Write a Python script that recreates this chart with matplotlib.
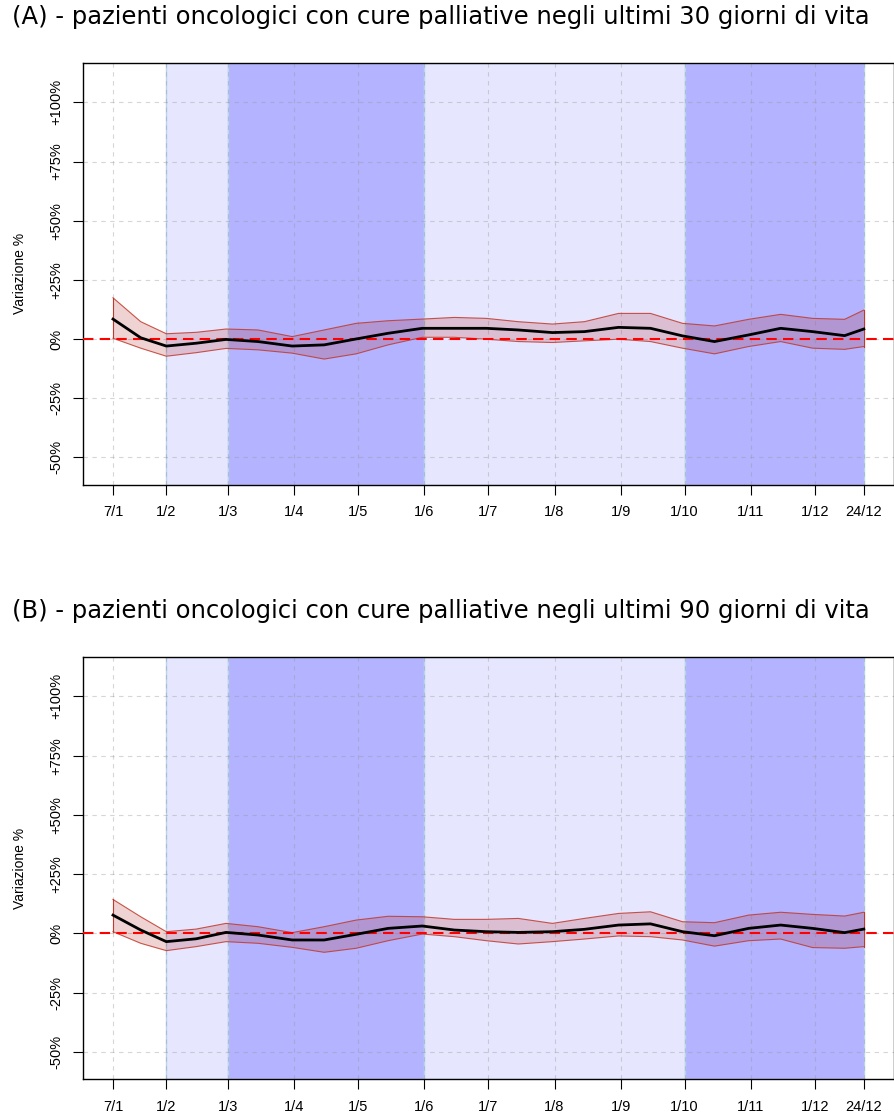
"""
Variazione % dei pazienti oncologici con cure palliative (30 e 90 giorni),
stima lisciata con banda di confidenza e periodi evidenziati.
"""

import matplotlib
matplotlib.use("Agg")
import matplotlib.pyplot as plt
import numpy as np

# giorni dell'anno (2020) dei tick e relative etichette
tick_days = [7, 32, 61, 92, 122, 153, 183, 214, 245, 275, 306, 336, 359]
tick_labels = ["7/1", "1/2", "1/3", "1/4", "1/5", "1/6", "1/7", "1/8",
               "1/9", "1/10", "1/11", "1/12", "24/12"]

# periodi evidenziati: (inizio, fine, tipo)
periods_start = [32, 61, 153, 275]
periods_end = [61, 153, 275, 359]
periods_dark = [False, True, False, True]

y_ticks = [-50, -25, 0, 25, 50, 75, 100]
y_tick_labels = ["-50%", "-25%", "0%", "+25%", "+50%", "+75%", "+100%"]

# giorni campionati per le curve
days = [7, 20, 32, 46, 60, 75, 91, 106, 121, 136, 152, 167, 182, 197, 213,
        228, 244, 259, 274, 289, 305, 320, 335, 350, 359]

# (A) ultimi 30 giorni di vita
a_mean = [8.4, 0.5, -3.0, -1.8, -0.2, -1.1, -3.0, -2.5, 0.0, 2.4, 4.5, 4.5,
          4.5, 3.8, 2.7, 3.1, 4.9, 4.5, 1.3, -1.1, 1.7, 4.5, 3.1, 1.4, 4.2]
a_upper = [17.4, 7.3, 2.2, 2.8, 4.2, 3.8, 1.0, 3.8, 6.6, 7.7, 8.4, 9.1,
           8.7, 7.3, 6.3, 7.3, 10.8, 10.8, 6.6, 5.5, 8.3, 10.4, 8.7, 8.3, 12.2]
a_lower = [0.3, -3.9, -7.3, -5.8, -4.0, -4.6, -6.0, -8.5, -6.3, -2.5, 0.7, 0.7,
           -0.1, -1.1, -1.5, -0.8, -0.1, -1.1, -3.9, -6.3, -3.2, -1.1, -3.9, -4.4, -3.2]

# (B) ultimi 90 giorni di vita
b_mean = [7.7, 1.4, -3.5, -2.3, 0.4, -0.7, -2.8, -2.8, -0.4, 2.1, 3.1, 1.4,
          0.7, 0.4, 0.7, 1.7, 3.5, 4.0, 0.7, -1.0, 2.1, 3.5, 2.1, 0.3, 1.8]
b_upper = [14.3, 7.0, 0.7, 1.8, 4.2, 2.8, 0.3, 2.8, 5.6, 7.2, 7.0, 5.9,
           5.9, 6.3, 4.2, 6.3, 8.4, 9.1, 4.9, 4.5, 7.7, 8.9, 8.0, 7.3, 8.9]
b_lower = [0.7, -4.2, -7.3, -5.6, -3.5, -4.2, -5.9, -8.0, -6.3, -3.1, -0.3, -1.4,
           -3.1, -4.5, -3.5, -2.4, -1.1, -1.4, -2.8, -5.4, -3.1, -2.4, -6.0, -6.3, -5.6]

titles = ["(A) - pazienti oncologici con cure palliative negli ultimi 30 giorni di vita",
          "(B) - pazienti oncologici con cure palliative negli ultimi 90 giorni di vita"]


def draw_panel(ax, mean, upper, lower):
    for start, end, dark in zip(periods_start, periods_end, periods_dark):
        ax.axvspan(start, end, facecolor="#B3B3FF" if dark else "#E6E6FF",
                   edgecolor="#B8D4EE", linewidth=1, zorder=0)
    for d in tick_days:
        ax.axvline(d, color="#999999", alpha=0.4, lw=0.8, ls=(0, (4, 4)), zorder=1)
    for y in y_ticks:
        ax.axhline(y, color="#999999", alpha=0.4, lw=0.8, ls=(0, (4, 4)), zorder=1)
    ax.fill_between(days, lower, upper, facecolor="#B22222", alpha=0.2,
                    edgecolor="none", zorder=2)
    ax.plot(days, upper, color="#C0392B", lw=0.8, alpha=0.85, zorder=3)
    ax.plot(days, lower, color="#C0392B", lw=0.8, alpha=0.85, zorder=3)
    ax.plot([days[0], days[0]], [lower[0], upper[0]], color="#C0392B", lw=0.8, zorder=3)
    ax.plot([days[-1], days[-1]], [lower[-1], upper[-1]], color="#C0392B", lw=0.8, zorder=3)
    ax.axhline(0, color="red", lw=1.5, ls=(0, (5, 3)), zorder=4)
    ax.plot(days, mean, color="black", lw=2, zorder=5)

    ax.set_xlim(-7.08, 373.08)
    ax.set_ylim(-61.6, 116.6)
    ax.set_xticks(tick_days)
    ax.set_xticklabels(tick_labels, fontsize=10.5, family="Liberation Sans")
    ax.set_yticks(y_ticks)
    ax.set_yticklabels(y_tick_labels, fontsize=10.5, family="Liberation Sans",
                       rotation=90, va="center")
    ax.tick_params(axis="x", length=7, pad=8)
    ax.tick_params(axis="y", length=7, pad=7)
    ax.set_ylabel("Variazione %", fontsize=10, family="Liberation Sans", labelpad=16)
    for s in ax.spines.values():
        s.set_linewidth(1)


fig = plt.figure(figsize=(8.95, 11.18), dpi=100)
ax_a = fig.add_axes([0.0927, 0.5665, 0.906, 0.377])
ax_b = fig.add_axes([0.0927, 0.0346, 0.906, 0.3777])

draw_panel(ax_a, a_mean, a_upper, a_lower)
draw_panel(ax_b, b_mean, b_upper, b_lower)

fig.text(0.493, 1 - 17 / 1118, titles[0], ha="center", va="center",
         fontsize=17.5, family="DejaVu Sans")
fig.text(0.493, 1 - 611 / 1118, titles[1], ha="center", va="center",
         fontsize=17.5, family="DejaVu Sans")

fig.savefig("out.png", dpi=100)
